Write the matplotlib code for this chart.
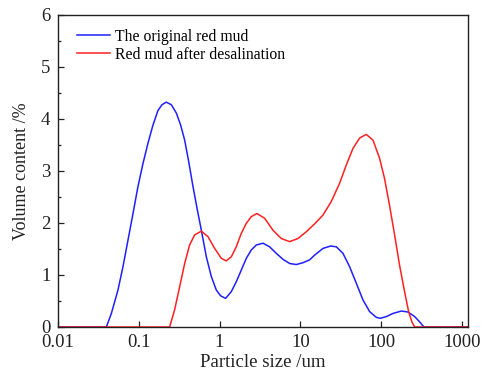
import numpy as np
import matplotlib
matplotlib.use("Agg")
import matplotlib.pyplot as plt
from matplotlib.ticker import FixedLocator, MultipleLocator, NullLocator

# Particle size distribution (size in um, volume %)
orig_size = [0.01, 0.0397, 0.0458, 0.0553, 0.0638, 0.0736, 0.0849, 0.0978,
             0.1128, 0.130, 0.150, 0.173, 0.194, 0.219, 0.253, 0.292, 0.330,
             0.370, 0.415, 0.469, 0.531, 0.595, 0.686, 0.791, 0.912, 1.03,
             1.19, 1.398, 1.612, 1.86, 2.145, 2.473, 2.85, 3.45, 4.17, 5.04,
             6.10, 7.37, 8.91, 10.78, 13.03, 15.0, 19.06, 23.8, 27.9, 33.7,
             40.7, 49.3, 59.6, 72.1, 87.1, 97.7, 115.9, 140.0, 178.0, 215.0,
             260.0, 299.0, 339.0, 1200.0]
orig_vol = [0.0, 0.0, 0.26, 0.71, 1.16, 1.67, 2.18, 2.70,
            3.14, 3.53, 3.88, 4.16, 4.27, 4.32, 4.27, 4.11, 3.88,
            3.59, 3.18, 2.70, 2.25, 1.86, 1.35, 0.97, 0.71, 0.60,
            0.55, 0.68, 0.87, 1.095, 1.32, 1.48, 1.575, 1.61, 1.54, 1.415,
            1.30, 1.22, 1.20, 1.235, 1.29, 1.38, 1.51, 1.556, 1.54, 1.415,
            1.16, 0.84, 0.52, 0.295, 0.186, 0.167, 0.20, 0.26, 0.307, 0.288,
            0.20, 0.10, 0.0, 0.0]

desal_size = [0.01, 0.241, 0.278, 0.321, 0.370, 0.426, 0.492, 0.595, 0.72,
              0.87, 1.05, 1.21, 1.40, 1.61, 1.86, 2.14, 2.47, 2.90, 3.61,
              4.58, 5.81, 7.37, 9.35, 11.85, 15.0, 19.06, 24.15, 30.6, 37.0,
              44.8, 54.2, 65.5, 79.3, 95.7, 110.0, 127.0, 146.8, 169.0,
              195.0, 219.0, 240.0, 260.0, 1200.0]
desal_vol = [0.0, 0.0, 0.33, 0.775, 1.22, 1.575, 1.77, 1.84, 1.735,
             1.51, 1.32, 1.27, 1.35, 1.54, 1.80, 1.99, 2.12, 2.18, 2.09,
             1.86, 1.70, 1.64, 1.70, 1.83, 1.98, 2.15, 2.41, 2.76, 3.11,
             3.43, 3.63, 3.70, 3.59, 3.24, 2.86, 2.34, 1.77, 1.19,
             0.68, 0.295, 0.10, 0.0, 0.0]

x_ticks = [0.01, 0.1, 1, 10, 100, 1000]
x_tick_labels = ["0.01", "0.1", "1", "10", "100", "1000"]

plt.rcParams["font.family"] = ["Liberation Serif", "DejaVu Serif"]
plt.rcParams["font.size"] = 13.5

fig = plt.figure(figsize=(4.83, 3.71), dpi=100)
ax = fig.add_axes([0.120, 0.1186, 0.849, 0.8418])

ax.plot(orig_size, orig_vol, color="#1f1fff", lw=1.1, label="The original red mud")
ax.plot(desal_size, desal_vol, color="#ff2020", lw=1.1, label="Red mud after desalination")

ax.set_xscale("log")
ax.set_xlim(0.01, 1190)
ax.set_ylim(0, 6)
ax.xaxis.set_major_locator(FixedLocator(x_ticks))
ax.set_xticklabels(x_tick_labels)
ax.xaxis.set_minor_locator(NullLocator())
ax.yaxis.set_major_locator(MultipleLocator(1))
ax.yaxis.set_minor_locator(MultipleLocator(0.5))

ax.tick_params(which="both", direction="in", top=False, right=False,
               colors="#222222", labelcolor="#222222")
ax.tick_params(which="major", length=4.5, width=0.9)
ax.tick_params(which="minor", length=2.5, width=0.9)
ax.tick_params(axis="x", which="major", pad=5)
ax.tick_params(axis="y", which="major", pad=5.5)
for s in ax.spines.values():
    s.set_linewidth(1.0)
    s.set_color("#222222")

ax.set_xlabel("Particle size /um", labelpad=2, color="#222222")
ax.set_ylabel("Volume content /%", labelpad=8, color="#222222", fontsize=13)

ax.legend(loc="upper left", frameon=False, handlelength=2.1, handletextpad=0.32,
          labelspacing=0.12, borderpad=0, borderaxespad=0,
          bbox_to_anchor=(19 / 410, 0.955), fontsize=11.3)

fig.savefig("out.png", dpi=100)
